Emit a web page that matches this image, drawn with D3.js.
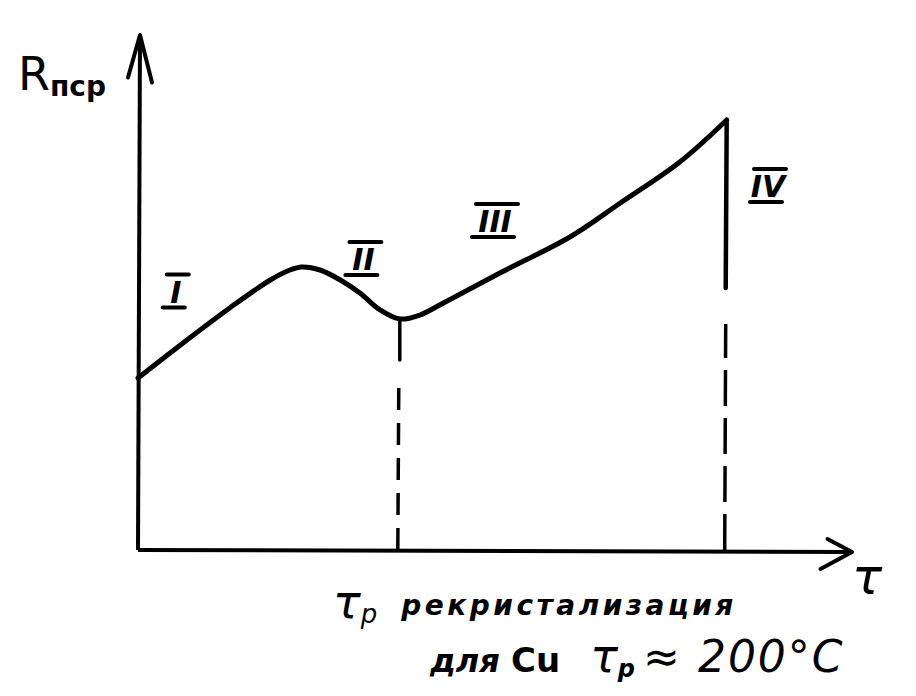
<!DOCTYPE html>
<html><head><meta charset="utf-8">
<script src="https://cdn.jsdelivr.net/npm/d3@7"></script>
<style>body{margin:0;background:#fff}svg{display:block}text{font-family:"DejaVu Sans",sans-serif;fill:#000}</style>
</head><body>
<svg id="c" width="916" height="696"></svg>
<script>
// Curve of resistance vs time (arbitrary units)
const curveX = [0, 7, 13.1, 18.9, 21.7, 23.4, 26, 28.9, 31.7, 34.6, 37.4, 40.3, 43.1, 51.7, 61.7, 68.9, 77.4, 84.1];
const curveY = [34.4, 42, 48.4, 54, 56, 56.6, 56, 54, 51.4, 48, 46.2, 47, 49, 55.4, 62.6, 69.4, 77.6, 86];
// Recrystallization marker (τp)
const recrystX = 37.4, recrystSolidBottom = 38;
// Drop (stage IV)
const dropX = 84.1, dropTop = 86, dropBottom = 52.4;
// Stage labels
const stageNames = ["I", "II", "III", "IV"];
const stageX = [5.4, 32.2, 51, 90];
const stageY = [49.5, 56, 63.6, 70.6];

const svg = d3.select("#c");
const x = d3.scaleLinear().domain([0, 100]).range([138, 838]);
const y = d3.scaleLinear().domain([0, 100]).range([550, 50]);

const ink = "#000";
// Axes
svg.append("line").attr("x1", x(0)).attr("y1", y(0)).attr("x2", x(0)+2).attr("y2", y(103))
  .attr("stroke", ink).attr("stroke-width", 4);
svg.append("path").attr("d", `M${x(0)-10},${y(94.5)} L${x(0)+2},${y(103)} L${x(0)+14},${y(93.5)}`)
  .attr("fill", "none").attr("stroke", ink).attr("stroke-width", 4).attr("stroke-linecap", "round").attr("stroke-linejoin", "round");
svg.append("line").attr("x1", x(0)).attr("y1", y(0)).attr("x2", x(102)).attr("y2", y(-0.4))
  .attr("stroke", ink).attr("stroke-width", 4);
svg.append("path").attr("d", `M${x(98.5)},${y(2.2)} L${x(102)},${y(-0.4)} L${x(97.5)},${y(-3.8)}`)
  .attr("fill", "none").attr("stroke", ink).attr("stroke-width", 4).attr("stroke-linecap", "round").attr("stroke-linejoin", "round");

// Curve
const pts = curveX.map((v, i) => [v, curveY[i]]);
const line = d3.line().x(d => x(d[0])).y(d => y(d[1])).curve(d3.curveCatmullRom);
svg.append("path").attr("d", line(pts)).attr("fill", "none").attr("stroke", ink)
  .attr("stroke-width", 5).attr("stroke-linecap", "round").attr("stroke-linejoin", "round");

// Recrystallization vertical
svg.append("line").attr("x1", x(recrystX)).attr("x2", x(recrystX)).attr("y1", y(curveY[10])).attr("y2", y(recrystSolidBottom))
  .attr("stroke", ink).attr("stroke-width", 3.5).attr("stroke-linecap", "round");
svg.append("line").attr("x1", x(recrystX)-2).attr("x2", x(recrystX)-1).attr("y1", y(0)).attr("y2", y(recrystSolidBottom)+22)
  .attr("stroke", ink).attr("stroke-width", 3.5).attr("stroke-dasharray", "22 13");

// Drop
svg.append("line").attr("x1", x(dropX)).attr("x2", x(dropX)-1).attr("y1", y(dropTop)).attr("y2", y(dropBottom))
  .attr("stroke", ink).attr("stroke-width", 4.5).attr("stroke-linecap", "round");
svg.append("line").attr("x1", x(dropX)-2).attr("x2", x(dropX)-1).attr("y1", y(0)).attr("y2", y(dropBottom)+36)
  .attr("stroke", ink).attr("stroke-width", 3.5).attr("stroke-dasharray", "36 12");

// Stage labels with over/under bars
stageNames.forEach((n, i) => {
  const cx = x(stageX[i]), cy = y(stageY[i]);
  const g = svg.append("g");
  g.append("text").attr("x", cx).attr("y", cy).attr("text-anchor", "middle")
    .attr("font-size", 30).attr("font-weight", "bold").attr("font-style", "italic").text(n);
  const w = 12 + n.length * 10;
  g.append("line").attr("x1", cx - w/2 + 2).attr("x2", cx + w/2 + 2).attr("y1", cy - 28).attr("y2", cy - 28)
    .attr("stroke", ink).attr("stroke-width", 4).attr("stroke-linecap", "round");
  g.append("line").attr("x1", cx - w/2 - 2).attr("x2", cx + w/2 - 2).attr("y1", cy + 5).attr("y2", cy + 5)
    .attr("stroke", ink).attr("stroke-width", 4).attr("stroke-linecap", "round");
});

// Axis labels
const yl = svg.append("text").attr("x", 18).attr("y", 90).attr("font-size", 46);
yl.append("tspan").text("R");
yl.append("tspan").attr("font-size", 28).attr("font-weight", "bold").attr("dy", 6).text("пср");
svg.append("text").attr("x", 852).attr("y", 594).attr("font-size", 50).attr("font-style", "italic").text("τ");

// Bottom captions
const c1 = svg.append("text").attr("x", 333).attr("y", 618).attr("font-size", 46).attr("font-style", "italic");
c1.append("tspan").text("τ");
c1.append("tspan").attr("font-size", 26).attr("dy", 5).text("р");
c1.append("tspan").attr("dx", 24).attr("dy", -8).attr("font-size", 28).attr("font-weight", "bold").attr("letter-spacing", 3.5).text("рекристализация");
const c2 = svg.append("text").attr("x", 430).attr("y", 672).attr("font-size", 32).attr("font-weight", "bold").attr("font-style", "italic");
c2.append("tspan").text("для ");
c2.append("tspan").attr("font-style", "normal").attr("font-size", 34).text("Cu");
c2.append("tspan").attr("dx", 30).attr("font-size", 46).attr("font-weight", "normal").text("τ");
c2.append("tspan").attr("font-size", 24).attr("dy", 5).text("р");
c2.append("tspan").attr("dx", 8).attr("dy", -5).attr("font-size", 44).attr("font-weight", "normal").attr("letter-spacing", 2).text("≈ 200°C");
</script>
</body></html>
